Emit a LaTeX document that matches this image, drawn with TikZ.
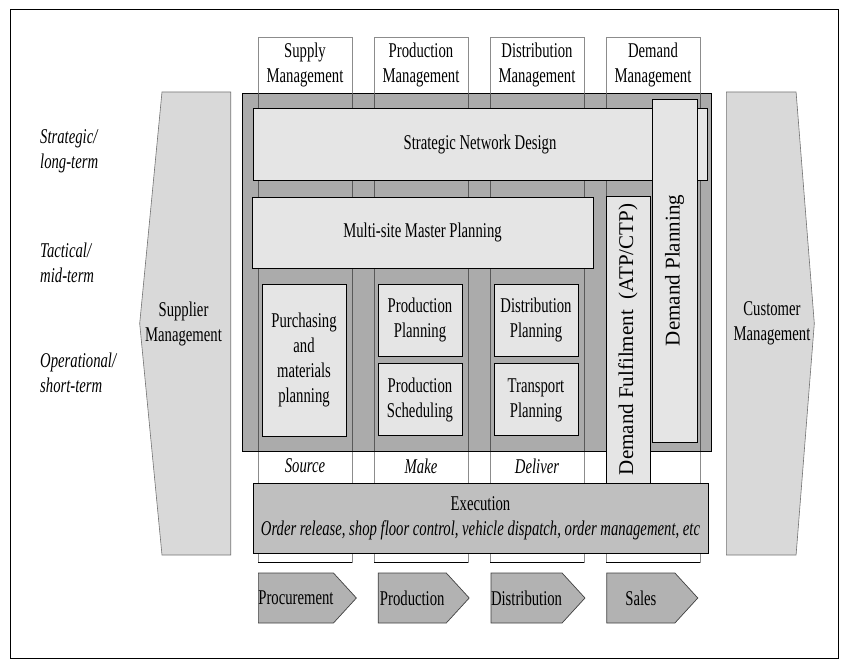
\documentclass[tikz,border=0pt]{standalone}
\usepackage{fontspec}
\setmainfont{Liberation Serif}[FakeStretch=0.7]
\newfontfamily\rotfont{Liberation Serif}
\usepackage{tikz}
\usetikzlibrary{shapes.symbols, positioning}

\begin{document}
\begin{tikzpicture}[x=1pt, y=-1pt, node distance=7pt]
        \tikzstyle{txt} = [font=\fontsize{21}{25}\selectfont, align=center, inner sep=0pt]
        \tikzstyle{itxt} = [txt, font=\itshape\fontsize{21}{25}\selectfont]
        \tikzstyle{box} = [rectangle, draw, line width=0.9pt, fill=black!10, txt]
        \tikzstyle{smallbox} = [box, minimum width=84pt, minimum height=72pt]
        \tikzstyle{vbox} = [box, rotate=90, font=\rotfont\fontsize{21}{25}\selectfont]
        \tikzstyle{colline} = [draw=black!45, line width=0.6pt]
        \tikzstyle{flow} = [signal, signal to=east, draw=black!75, line width=0.7pt, fill=black!30, minimum width=91pt, minimum height=50pt, signal pointer angle=95, txt]
        \tikzstyle{side} = [signal, draw=black!55, line width=0.6pt, fill=black!15, minimum height=463pt, txt]
        \tikzstyle{level} = [itxt, anchor=west, align=left]

        \useasboundingbox (0,0) rectangle (849,669);
        \draw[line width=1pt] (10,10) rectangle (838,658);

        % Supplier and customer
        \node [side, signal to=west, signal pointer angle=169, minimum width=91pt, anchor=east] (supplier) at (231,323.5) {};
        \node [side, signal to=east, signal pointer angle=171, minimum width=88pt, anchor=west] (customer) at (726,323.5) {};
        \node [txt] (suppliertext) at (183.5,323.5) {Supplier\\Management};
        \node [txt] (customertext) at (772,323.5) {Customer\\Management};

        % Columns
        \foreach \cx in {305,421,537,653} {
            \draw [colline, fill=white] (\cx-47,37) rectangle (\cx+47,562);
            \draw [line width=1pt] (\cx-47,562) -- (\cx+47,562);
        }
        \node [rectangle, draw, line width=0.9pt, fill=black!33, minimum width=469pt, minimum height=358pt] (core) at (476.5,272) {};
        \foreach \cx in {305,421,537,653}
            \draw [colline, draw=black!65] (\cx-47,93) -- (\cx-47,451) (\cx+47,93) -- (\cx+47,451);

        \node [txt] (supply) at (305,65) {Supply\\Management};
        \node [txt] (production) at (421,65) {Production\\Management};
        \node [txt] (distribution) at (537,65) {Distribution\\Management};
        \node [txt] (demand) at (653,65) {Demand\\Management};

        % Planning levels
        \node [level] (strategic) at (40,151) {Strategic/\\long-term};
        \node [level] (tactical) at (40,263) {Tactical/\\mid-term};
        \node [level] (operational) at (40,373) {Operational/\\short-term};

        % Planning boxes
        \node [box, minimum width=454pt, minimum height=72pt] (network) at (480,144) {Strategic Network Design};
        \node [box, minimum width=341pt, minimum height=71pt] (master) at (422.5,232.5) {Multi-site Master Planning};
        \node [box, minimum width=84pt, minimum height=152pt] (purchasing) at (304,360) {Purchasing\\and\\materials\\planning};
        \node [smallbox] (pplan) at (420,320) {Production\\Planning};
        \node [smallbox, below=7pt of pplan] (psched) {Production\\Scheduling};
        \node [smallbox] (dplan) at (536,320) {Distribution\\Planning};
        \node [smallbox, below=7pt of dplan] (tplan) {Transport\\Planning};

        \node [itxt] (source) at (305,466) {Source};
        \node [itxt] (make) at (421,466) {Make};
        \node [itxt] (deliver) at (537,466) {Deliver};

        \node [box, fill=black!25, minimum width=455pt, minimum height=70pt] (execution) at (480.5,518) {Execution\\\textit{Order release, shop floor control, vehicle dispatch, order management, etc}};

        \node [vbox, minimum width=287pt, minimum height=44pt] (fulfilment) at (628,339.5) {Demand Fulfilment\ \ (ATP/CTP)};
        \node [vbox, minimum width=343pt, minimum height=45pt] (dplanning) at (674.5,270.5) {Demand Planning};

        % Flow
        \node [flow, anchor=west] (procurement) at (258,598) {Procurement};
        \node [flow, right=21pt of procurement] (prodflow) {Production};
        \node [flow, right=21pt of prodflow] (distflow) {Distribution};
        \node [flow, right=21pt of distflow] (sales) {Sales};
    \end{tikzpicture}
\end{document}
